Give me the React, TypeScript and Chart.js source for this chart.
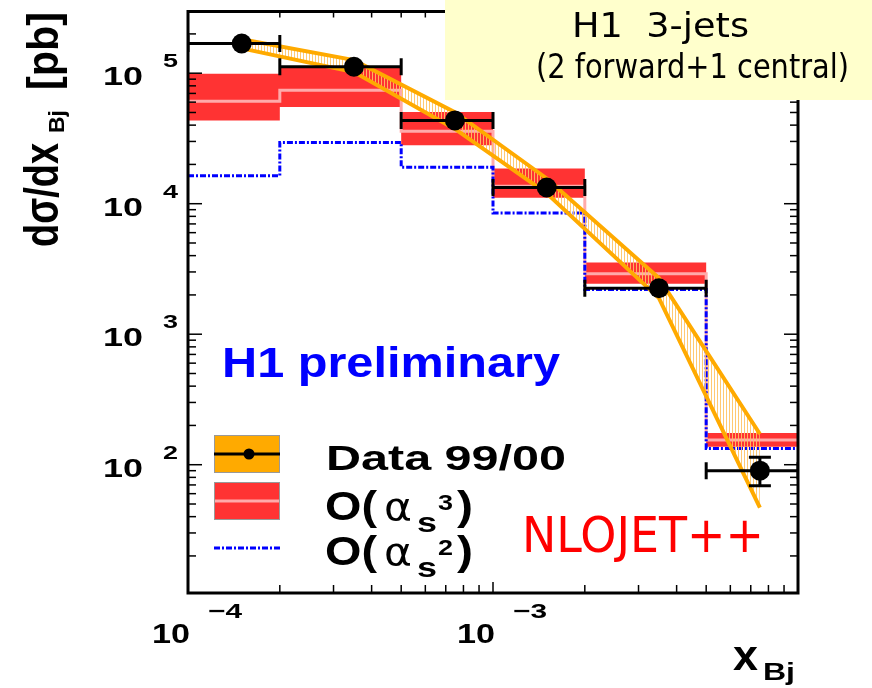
import React, { useEffect, useRef } from "react";
import { Chart, registerables } from "chart.js";
Chart.register(...registerables);

// ---------------- data ----------------
const binEdges = [1e-4, 2e-4, 5e-4, 1e-3, 2e-3, 5e-3, 1e-2];
const binCenters = [1.5e-4, 3.5e-4, 7.5e-4, 1.5e-3, 3.5e-3, 7.5e-3];
const dataValues = [1.69e5, 1.12e5, 4.35e4, 1.33e4, 2250, 90];
const dataStatUp = [1.74e5, 1.15e5, 4.5e4, 1.38e4, 2330, 114];
const dataStatDown = [1.64e5, 1.09e5, 4.2e4, 1.28e4, 2170, 69];
const dataBandUp = [1.82e5, 1.26e5, 5.03e4, 1.56e4, 2690, 172];
const dataBandDown = [1.55e5, 1.02e5, 3.74e4, 1.2e4, 1890, 47];
const nlo3Central = [6.1e4, 7.4e4, 3.59e4, 1.36e4, 2900, 155];
const nlo3Up = [9.9e4, 1.1e5, 5.04e4, 1.86e4, 3550, 175];
const nlo3Down = [4.35e4, 5.5e4, 2.8e4, 1.11e4, 2440, 137];
const nlo2Values = [1.64e4, 2.94e4, 1.9e4, 8500, 2200, 133];
const yDecadeTicks = [100, 1000, 1e4, 1e5];
const xDecadeTicks = [1e-4, 1e-3];
const xRange = [1e-4, 1e-2];
const yRange = [10.4, 2.97e5];

const ORANGE = "#FFAA00";
const RED = "#FF3333";
const PINK = "#FFAAAA";
const BLUE = "#0000FF";

function stepPoints(vals: number[]) {
  const pts = vals.map((v, i) => ({ x: binEdges[i], y: v }));
  pts.push({ x: binEdges[binEdges.length - 1], y: vals[vals.length - 1] });
  return pts;
}

function fitText(ctx: any, s: string, x: number, y: number, font: string, color: string, width?: number, sy = 1, rot = 0) {
  ctx.save();
  ctx.font = font;
  const w = ctx.measureText(s).width;
  const sx = width ? width / w : 1;
  ctx.translate(x, y);
  if (rot) ctx.rotate(rot);
  ctx.scale(sx, sy);
  ctx.fillStyle = color;
  ctx.textAlign = "left";
  ctx.textBaseline = "alphabetic";
  ctx.fillText(s, 0, 0);
  ctx.restore();
}

function seg(ctx: any, x1: number, y1: number, x2: number, y2: number) {
  ctx.beginPath();
  ctx.moveTo(x1, y1);
  ctx.lineTo(x2, y2);
  ctx.stroke();
}

const overlay = {
  id: "overlay",
  afterDraw(chart: any) {
    const ctx = chart.ctx;
    const { left, right, top, bottom } = chart.chartArea;
    const xs = chart.scales.x;
    const ys = chart.scales.y;
    ctx.save();
    ctx.strokeStyle = "#000";
    ctx.lineWidth = 1.5;
    // y ticks (inward, both sides)
    for (let d = 1; d <= 5; d++) {
      for (let m = 1; m <= 9; m++) {
        const v = m * Math.pow(10, d);
        if (v < yRange[0] || v > yRange[1]) continue;
        const py = ys.getPixelForValue(v);
        const len = m === 1 ? 14 : 8;
        seg(ctx, left, py, left + len, py);
        seg(ctx, right, py, right - len, py);
      }
    }
    // x ticks
    for (let d = -4; d <= -3; d++) {
      for (let m = 1; m <= 9; m++) {
        const v = m * Math.pow(10, d);
        if (v <= xRange[0] || v >= xRange[1]) continue;
        const px = xs.getPixelForValue(v);
        const len = m === 1 ? 11 : 8;
        seg(ctx, px, bottom, px, bottom - len);
        seg(ctx, px, top, px, top + len - 2);
      }
    }
    // frame
    ctx.lineWidth = 3;
    ctx.strokeRect(left, top, right - left, bottom - top);

    // y tick labels
    for (const v of yDecadeTicks) {
      const py = ys.getPixelForValue(v);
      fitText(ctx, "10", 103, py + 12, 'bold 24px "Liberation Sans"', "#000", 40, 1.05);
      fitText(ctx, String(Math.round(Math.log10(v))), 163, py - 6, 'bold 19px "Liberation Sans"', "#000", 15);
    }
    // x tick labels
    for (const v of xDecadeTicks) {
      const px = xs.getPixelForValue(v);
      fitText(ctx, "10", px - 36, 643, 'bold 28px "Liberation Sans"', "#000", 38);
      fitText(ctx, "\u2212" + String(Math.round(-Math.log10(v))), px + 20, 618, 'bold 21px "Liberation Sans"', "#000", 34);
    }

    // axis titles
    const R = -Math.PI / 2;
    fitText(ctx, "d\u03c3/dx", 58, 247, 'bold 38px "Liberation Sans"', "#000", 104, 1.25, R);
    fitText(ctx, "Bj", 64, 133, 'bold 22px "Liberation Sans"', "#000", 23, 1, R);
    fitText(ctx, "[pb]", 58, 90, 'bold 38px "Liberation Sans"', "#000", 78, 1.15, R);
    fitText(ctx, "x", 733, 670, 'bold 42px "Liberation Sans"', "#000", 25);
    fitText(ctx, "Bj", 763, 680, 'bold 24px "Liberation Sans"', "#000", 32);

    // H1 preliminary
    fitText(ctx, "H1 preliminary", 222, 377, 'bold 42px "Liberation Sans"', BLUE, 338);

    // legend
    ctx.fillStyle = ORANGE;
    ctx.fillRect(214, 435, 66, 38);
    ctx.strokeStyle = "#999";
    ctx.lineWidth = 1;
    ctx.strokeRect(214.5, 435.5, 65, 37);
    ctx.strokeStyle = "#000";
    ctx.lineWidth = 3;
    seg(ctx, 214, 454, 280, 454);
    ctx.fillStyle = "#000";
    ctx.beginPath();
    ctx.arc(249, 454, 5.5, 0, Math.PI * 2);
    ctx.fill();

    ctx.fillStyle = RED;
    ctx.fillRect(214, 482, 66, 38);
    ctx.strokeStyle = "#999";
    ctx.lineWidth = 1;
    ctx.strokeRect(214.5, 482.5, 65, 37);
    ctx.strokeStyle = PINK;
    ctx.lineWidth = 3;
    seg(ctx, 215, 501, 279, 501);

    ctx.strokeStyle = BLUE;
    ctx.lineWidth = 3;
    ctx.setLineDash([6, 2, 2, 2]);
    seg(ctx, 214, 548, 280, 548);
    ctx.setLineDash([]);

    fitText(ctx, "Data 99/00", 326, 470, 'bold 35px "Liberation Sans"', "#000", 240);
    const rows = [
      { base: 520, sup: "3" },
      { base: 565, sup: "2" },
    ];
    for (const r of rows) {
      fitText(ctx, "O(", 325, r.base, 'bold 40px "Liberation Sans"', "#000", 52);
      fitText(ctx, "\u03b1", 384, r.base, '38px "DejaVu Sans"', "#000", 28);
      fitText(ctx, "s", 417, r.base + 11.5, 'bold 28px "Liberation Sans"', "#000", 20);
      fitText(ctx, r.sup, 438, r.base - 10, 'bold 22px "Liberation Sans"', "#000", 15);
      fitText(ctx, ")", 457, r.base, 'bold 40px "Liberation Sans"', "#000", 16);
    }

    fitText(ctx, "NLOJET++", 522, 552, '50px "DejaVu Sans"', "#FF0000", 242);

    // title box
    ctx.fillStyle = "#FFFFCC";
    ctx.fillRect(445, 0, 427, 100);
    fitText(ctx, "H1  3-jets", 572, 37, '32px "DejaVu Sans"', "#000", 177, 1.05);
    fitText(ctx, "(2 forward+1 central)", 536, 78, '34px "DejaVu Sans"', "#000", 313);

    ctx.restore();
  },
};

export default function App() {
  const ref = useRef<HTMLCanvasElement>(null);
  useEffect(() => {
    const canvas = ref.current!;
    const pc = document.createElement("canvas");
    pc.width = 3;
    pc.height = 4;
    const pctx = pc.getContext("2d")!;
    pctx.fillStyle = "rgba(255,195,100,0.9)";
    pctx.fillRect(0, 0, 1, 4);
    const hatch = canvas.getContext("2d")!.createPattern(pc, "repeat");

    const markers = dataValues.map((v, i) => ({ x: binCenters[i], y: v }));
    const xErr: any[] = [];
    const yErr: any[] = [];
    dataValues.forEach((v, i) => {
      xErr.push({ x: binEdges[i], y: v }, { x: binEdges[i + 1], y: v }, { x: binCenters[i], y: null });
      yErr.push({ x: binCenters[i], y: dataStatDown[i], v }, { x: binCenters[i], y: dataStatUp[i], v }, { x: binCenters[i], y: null, v });
    });
    const bandUp = dataBandUp.map((v, i) => ({ x: binCenters[i], y: v }));
    const bandDown = dataBandDown.map((v, i) => ({ x: binCenters[i], y: v }));

    const capRadius = (c: any) => {
      const r = c.raw;
      if (!r || r.y == null) return 0;
      const ys = c.chart.scales.y;
      return Math.abs(ys.getPixelForValue(r.y) - ys.getPixelForValue(r.v)) > 11 ? 11 : 0;
    };

    const chart = new Chart(canvas, {
      type: "line",
      data: {
        datasets: [
          { label: "markers", data: markers, showLine: false, pointStyle: "circle", pointRadius: 10, pointBackgroundColor: "#000", pointBorderWidth: 0, order: 0 },
          { label: "yerr", data: yErr, borderColor: "#000", borderWidth: 3, pointStyle: "line", pointRotation: 0, pointRadius: capRadius, pointBorderColor: "#000", pointBorderWidth: 3, order: 1 },
          { label: "xerr", data: xErr, borderColor: "#000", borderWidth: 3, pointStyle: "line", pointRotation: 90, pointRadius: 8.5, pointBorderColor: "#000", pointBorderWidth: 3, order: 2 },
          { label: "bandUp", data: bandUp, borderColor: ORANGE, borderWidth: 4, pointRadius: 0, fill: "+1", backgroundColor: hatch as any, order: 4 },
          { label: "bandDown", data: bandDown, borderColor: ORANGE, borderWidth: 4, pointRadius: 0, order: 3 },
          { label: "nlo2", data: stepPoints(nlo2Values), stepped: "before", borderColor: BLUE, borderWidth: 3, borderDash: [6, 2, 2, 2], pointRadius: 0, order: 5 },
          { label: "nlo3", data: stepPoints(nlo3Central), stepped: "before", borderColor: PINK, borderWidth: 3, pointRadius: 0, order: 6 },
          { label: "nlo3Up", data: stepPoints(nlo3Up), stepped: "before", borderWidth: 0, pointRadius: 0, fill: "+1", backgroundColor: RED, order: 7 },
          { label: "nlo3Down", data: stepPoints(nlo3Down), stepped: "before", borderWidth: 0, pointRadius: 0, order: 8 },
        ] as any,
      },
      options: {
        animation: false,
        responsive: false,
        events: [],
        layout: { padding: { left: 188, right: 74, top: 9, bottom: 95 } },
        scales: {
          x: { type: "logarithmic", min: xRange[0], max: xRange[1], display: false },
          y: { type: "logarithmic", min: yRange[0], max: yRange[1], display: false },
        },
        plugins: {
          legend: { display: false },
          tooltip: { enabled: false },
          filler: { drawTime: "beforeDatasetDraw", propagate: false } as any,
        },
      } as any,
      plugins: [overlay],
    });
    return () => chart.destroy();
  }, []);
  return (
    <div style={{ position: "absolute", left: 0, top: 0, width: 872, height: 688, background: "#fff" }}>
      <canvas ref={ref} width={872} height={688} style={{ display: "block", width: 872, height: 688 }} />
    </div>
  );
}
